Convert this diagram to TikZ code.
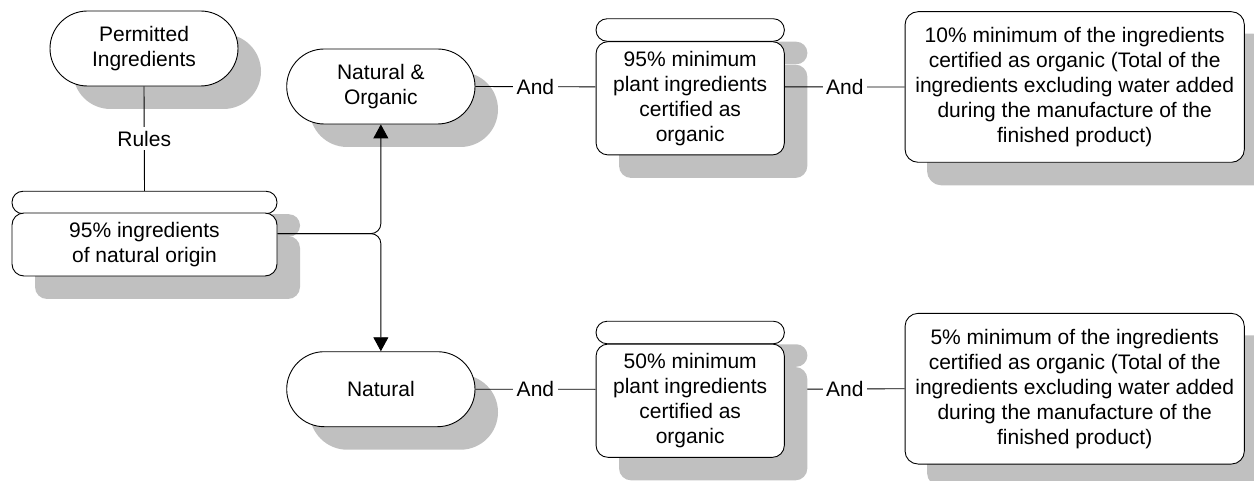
\documentclass[tikz,border=0pt]{standalone}
\usepackage{fontspec}
\setmainfont{Liberation Sans}
\usetikzlibrary{arrows.meta,shadows,fit,backgrounds}
\definecolor{shadowc}{RGB}{192,192,192}
\begin{document}
\begin{tikzpicture}[x=1pt,y=-1pt,
  every node/.style={font=\fontsize{21}{25}\selectfont, text=black},
  box/.style={draw=black, line width=0.9pt, fill=white, inner sep=0pt, align=center,
    drop shadow={shadow xshift=23pt, shadow yshift=-23pt, fill=shadowc, opacity=1}},
  bigshadow/.style={drop shadow={shadow xshift=22pt, shadow yshift=-22pt, fill=shadowc, opacity=1}},
  stadium/.style={box, rounded corners=37.5pt, minimum width=188.3pt, minimum height=75pt},
  capbar/.style={box, rounded corners=11pt, minimum height=22.5pt},
  conn/.style={draw=black, line width=0.9pt},
  arr/.style={conn, -{Triangle[length=14pt,width=15pt]}},
  lbl/.style={fill=white, inner sep=3.5pt},
  grp/.style={inner sep=0pt, draw=none}
]
\useasboundingbox (0,0) rectangle (1254,481);

% left column
\node[stadium, minimum width=188pt] (perm) at (144,48.5) {Permitted\\Ingredients};
\node[capbar, minimum width=265pt] (bar95ing) at (144.5,202.5) {};
\node[box, rounded corners=12pt, minimum width=265pt, minimum height=63pt] (box95ing) at (144.5,244.5) {95\% ingredients\\of natural origin};
\node[grp, fit=(bar95ing)(box95ing)] (g95ing) {};

% middle column
\node[stadium] (no) at (380.85,86.5) {Natural \&\\Organic};
\node[stadium] (nat) at (380.85,389.2) {Natural};

% top row
\node[capbar, minimum width=188.3pt] (bar95min) at (690.2,30) {};
\node[box, rounded corners=12pt, minimum width=188.3pt, minimum height=113.3pt] (box95min) at (690.2,98.3) {95\% minimum\\plant ingredients\\certified as\\organic};
\node[grp, fit=(bar95min)(box95min)] (g95min) {};
\node[box, bigshadow, rounded corners=13pt, minimum width=339.3pt, minimum height=150.6pt] (box10) at (1074.7,87) {10\% minimum of the ingredients\\certified as organic (Total of the\\ingredients excluding water added\\during the manufacture of the\\finished product)};

% bottom row
\node[capbar, minimum width=188.3pt] (bar50) at (690.2,332.5) {};
\node[box, rounded corners=12pt, minimum width=188.3pt, minimum height=113.3pt] (box50) at (690.2,400.7) {50\% minimum\\plant ingredients\\certified as\\organic};
\node[grp, fit=(bar50)(box50)] (g50) {};
\node[box, bigshadow, rounded corners=13pt, minimum width=339.3pt, minimum height=150.7pt] (box5) at (1074.7,388.7) {5\% minimum of the ingredients\\certified as organic (Total of the\\ingredients excluding water added\\during the manufacture of the\\finished product)};

% connectors
\draw[conn] (perm.south) -- node[lbl] {Rules} (bar95ing.north);
\draw[arr, rounded corners=10pt] (g95ing.east) -| (no.south);
\draw[arr, rounded corners=10pt] (g95ing.east) -| (nat.north);
\draw[conn] (no.east) -- node[lbl] {And} (g95min.west);
\draw[conn] (g95min.east) -- node[lbl] {And} (box10.west);
\draw[conn] (nat.east) -- node[lbl] {And} (g50.west);
\begin{scope}[on background layer]
\draw[conn] (g50.east) -- node[lbl] {And} (box5.west);
\end{scope}
\end{tikzpicture}
\end{document}
